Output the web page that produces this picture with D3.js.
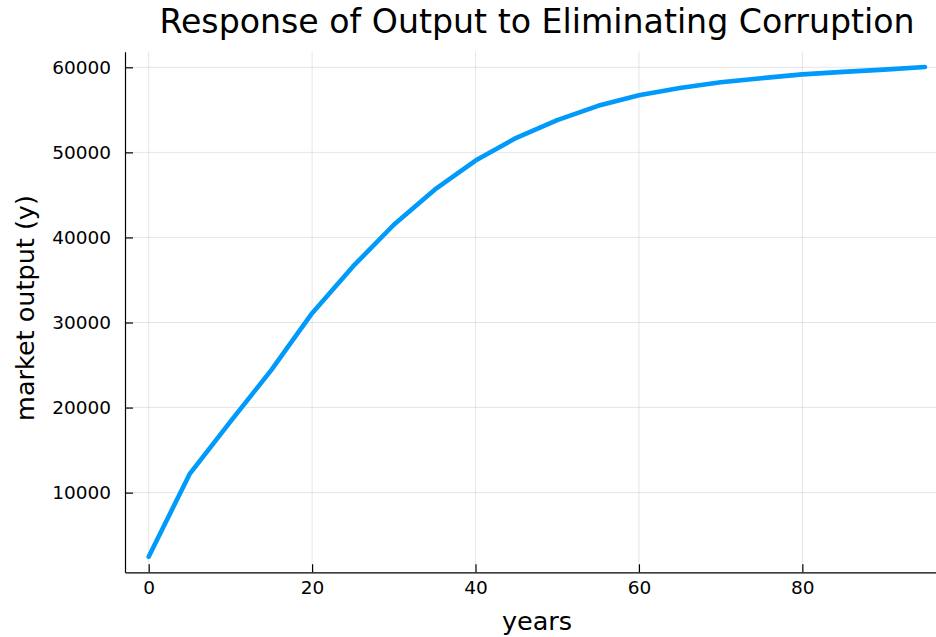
<!DOCTYPE html>
<html>
<head>
<meta charset="utf-8">
<script src="https://cdn.jsdelivr.net/npm/d3@7"></script>
<style>
  html, body { margin: 0; padding: 0; background: #fff; }
  svg { display: block; font-family: "DejaVu Sans", sans-serif; }
</style>
</head>
<body>
<svg id="chart" width="936" height="637"></svg>
<script>
const years = [0, 5, 10, 15, 20, 25, 30, 35, 40, 45, 50, 55, 60, 65, 70, 75, 80, 85, 90, 95];
const output = [2470, 12170, 18350, 24400, 31100, 36590, 41490, 45610, 49040, 51710, 53800, 55470, 56710, 57570, 58240, 58720, 59170, 59460, 59730, 60035];
const xTicks = [0, 20, 40, 60, 80];
const yTicks = [10000, 20000, 30000, 40000, 50000, 60000];
const titleText = "Response of Output to Eliminating Corruption";
const xLabel = "years";
const yLabel = "market output (y)";

const svg = d3.select("#chart");
const pL = 125, pR = 948.6, pT = 51.7, pB = 572.3;

const x = d3.scaleLinear().domain([-2.9, 97.9]).range([pL, pR]);
const y = d3.scaleLinear().domain([635, 61835]).range([pB, pT]);

// grid
const grid = svg.append("g");
grid.selectAll("line.gx").data(xTicks).join("line")
  .attr("x1", d => x(d)).attr("x2", d => x(d))
  .attr("y1", pT).attr("y2", pB)
  .attr("stroke", "#000").attr("stroke-opacity", 0.1).attr("stroke-width", 1);
grid.selectAll("line.gy").data(yTicks).join("line")
  .attr("x1", pL).attr("x2", pR)
  .attr("y1", d => y(d)).attr("y2", d => y(d))
  .attr("stroke", "#000").attr("stroke-opacity", 0.1).attr("stroke-width", 1);

// axes
const xAxis = d3.axisBottom(x).tickValues(xTicks).tickSizeInner(-8).tickSizeOuter(0).tickPadding(9).tickFormat(d3.format("d"));
const yAxis = d3.axisLeft(y).tickValues(yTicks).tickSizeInner(-8).tickSizeOuter(0).tickPadding(14).tickFormat(d3.format("d"));

const gx = svg.append("g").attr("transform", `translate(0,${pB})`).call(xAxis);
const gy = svg.append("g").attr("transform", `translate(${pL},0)`).call(yAxis);
[gx, gy].forEach(g => {
  g.select(".domain").attr("stroke", "#000").attr("stroke-width", 1.2);
  g.selectAll(".tick line").attr("stroke", "#000").attr("stroke-width", 1.2);
  g.selectAll(".tick text").attr("fill", "#000").style("font-size", "18.5px").style("font-family", "DejaVu Sans, sans-serif");
});

// line
const line = d3.line().x((d, i) => x(years[i])).y(d => y(d));
svg.append("path").datum(output)
  .attr("d", line)
  .attr("fill", "none")
  .attr("stroke", "#009AFA")
  .attr("stroke-width", 4.6)
  .attr("stroke-linejoin", "round")
  .attr("stroke-linecap", "round");

// title and labels
svg.append("text").attr("x", 537).attr("y", 33)
  .attr("text-anchor", "middle").style("font-size", "33.2px").attr("fill", "#000")
  .text(titleText);
svg.append("text").attr("x", 537).attr("y", 630)
  .attr("text-anchor", "middle").style("font-size", "25.5px").attr("fill", "#000")
  .text(xLabel);
svg.append("text").attr("transform", "translate(34,308) rotate(-90)")
  .attr("text-anchor", "middle").style("font-size", "25.5px").attr("fill", "#000")
  .text(yLabel);
</script>
</body>
</html>
